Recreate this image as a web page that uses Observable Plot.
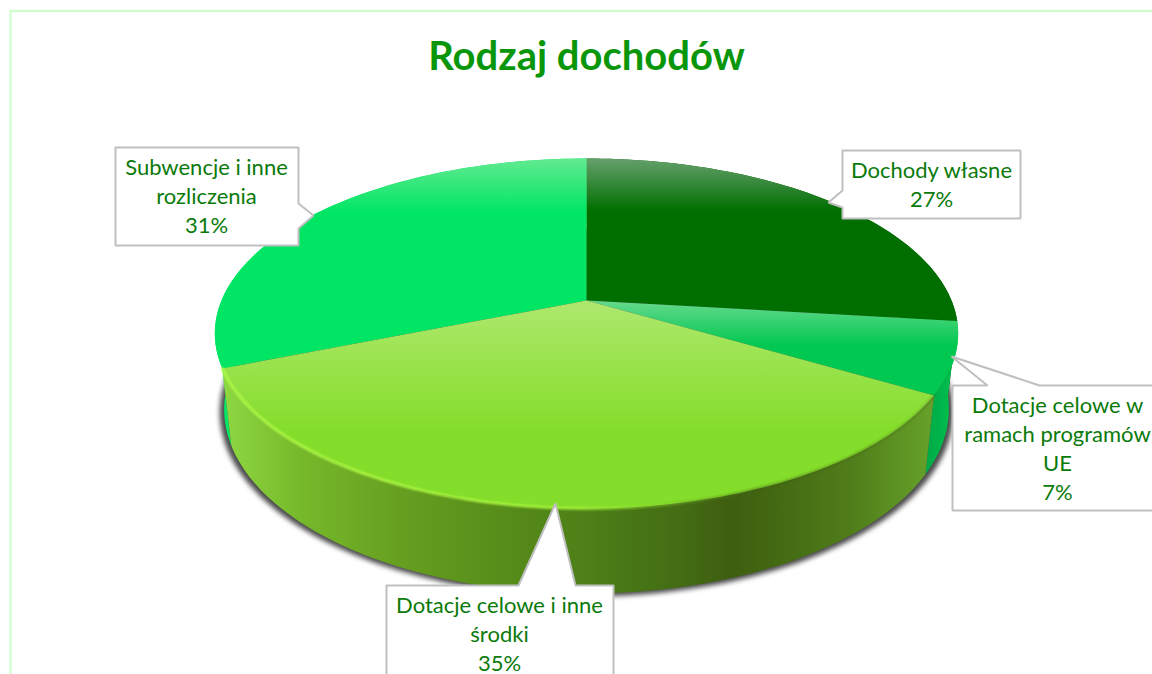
<!DOCTYPE html>
<html>
<head>
<meta charset="utf-8">
<script src="https://cdn.jsdelivr.net/npm/d3@7"></script>
<script src="https://cdn.jsdelivr.net/npm/@observablehq/plot@0.6"></script>
<style>
html,body{margin:0;padding:0;background:#fff;overflow:hidden}
.pie-shadow{filter:blur(2.5px)}
.rim-shade{filter:blur(1px)}
</style>
</head>
<body>
<div id="chart"></div>
<script>
// ---- data ----
const categories = ["Dochody własne", "Dotacje celowe w ramach programów UE", "Dotacje celowe i inne środki", "Subwencje i inne rozliczenia"];
const shares = [26.9, 6.6, 35.4, 31.1];
const chartTitle = "Rodzaj dochodów";
const labelTexts = [
  "Dochody własne\n27%",
  "Dotacje celowe w\nramach programów\nUE\n7%",
  "Dotacje celowe i inne\nśrodki\n35%",
  "Subwencje i inne\nrozliczenia\n31%"
];

// ---- styling and view geometry ----
const W = 1152, H = 674;
const view = {cx: 586, cy: 300, A: 365, B: 168.8, k: 0.1886, wallX: 0.975, wallYa: 58, wallYb: 1.053};
const gradients = [
  ["topDochody", 158, 210, "#65a06d", "#006f00"],
  ["topUE", 300, 345, "#66d98c", "#00c850"],
  ["topSrodki", 300, 430, "#aee86e", "#84dd2a"],
  ["topSubw", 158, 212, "#62ea90", "#00e664"]
];
const wallStops = [[222,"#8fd842"],[300,"#76b92a"],[400,"#669f20"],[500,"#578d1a"],[590,"#4c7f17"],[680,"#436c14"],[730,"#3e5e10"],[780,"#446a13"],[850,"#507d1a"],[933,"#66a22a"]];
const wallFill = ["#006000", "url(#wallUE)", "url(#wallSrodki)", "#05e566"];
const topFill = ["url(#topDochody)", "url(#topUE)", "url(#topSrodki)", "url(#topSubw)"];
const callouts = [
  {box: [842,150,1020,218], ptr: [[842,190],[828,202],[842,207]], side: "left", tx: 931, ty: 171},
  {box: [952,385,1156,510], ptr: [[987,385],[951,356],[1039,385]], side: "top", tx: 1057, ty: 406},
  {box: [386,585,613,690], ptr: [[518,585],[555,503],[575,585]], side: "top", tx: 499, ty: 606},
  {box: [115,147,298,245], ptr: [[298,203],[313,215],[298,228]], side: "right", tx: 206, ty: 168}
];

// ---- helpers: fraction of the turn -> screen position through the view ----
function topAt(frac) {
  const t = frac * 2 * Math.PI, px = Math.sin(t), py = Math.cos(t), w = 1 + view.k * py;
  return [view.cx + view.A * px / w, view.cy - view.B * py / w];
}
function bottomAt(frac) {
  const [x, y] = topAt(frac);
  return [view.cx + view.wallX * (x - view.cx), view.wallYa + view.wallYb * y];
}
function arc(f, f0, f1) {
  const n = Math.max(2, Math.ceil((f1 - f0) * 240));
  return d3.range(n + 1).map(i => f(f0 + (f1 - f0) * i / n));
}

const total = d3.sum(shares);
const ends = Array.from(d3.cumsum(shares), v => v / total);
const slices = shares.map((_, i) => ({i, f0: i ? ends[i - 1] : 0, f1: ends[i]}));
const X = p => p[0], Y = p => p[1];

const defs = () => {
  const d = d3.create("svg:defs");
  for (const [id, y1, y2, c1, c2] of gradients) {
    const g = d.append("linearGradient").attr("id", id).attr("gradientUnits", "userSpaceOnUse")
      .attr("x1", 0).attr("x2", 0).attr("y1", y1).attr("y2", y2);
    g.append("stop").attr("offset", 0).attr("stop-color", c1);
    g.append("stop").attr("offset", 1).attr("stop-color", c2);
  }
  const w = d.append("linearGradient").attr("id", "wallSrodki").attr("gradientUnits", "userSpaceOnUse")
    .attr("x1", 222).attr("x2", 933).attr("y1", 0).attr("y2", 0);
  wallStops.forEach(([x, c]) => w.append("stop").attr("offset", (x - 222) / (933 - 222)).attr("stop-color", c));
  const u = d.append("linearGradient").attr("id", "wallUE").attr("gradientUnits", "userSpaceOnUse")
    .attr("x1", 925).attr("x2", 955).attr("y1", 0).attr("y2", 0);
  u.append("stop").attr("offset", 0).attr("stop-color", "#00a945");
  u.append("stop").attr("offset", 1).attr("stop-color", "#00c24f");
  const h = d.append("linearGradient").attr("id", "rimLight").attr("gradientUnits", "userSpaceOnUse")
    .attr("x1", 222).attr("x2", 933).attr("y1", 0).attr("y2", 0);
  [[0, "#b4ff4a", 1], [0.5, "#a8f53c", 1], [0.6, "#90e030", 0.6], [0.75, "#3d5c0f", 0.5], [1, "#3d5c0f", 0.3]]
    .forEach(([o, c, a]) => h.append("stop").attr("offset", o).attr("stop-color", c).attr("stop-opacity", a));
  return d.node();
};

const shadowPts = arc(bottomAt, 0, 1).map(([x, y]) => [view.cx + 1.012 * (x - view.cx), y + 3]);
const wallOf = s => [...arc(topAt, s.f0, s.f1), ...arc(bottomAt, s.f0, s.f1).reverse()];
const faceOf = s => [[view.cx, view.cy], ...arc(topAt, s.f0, s.f1)];
const boxPath = c => {
  const [x0, y0, x1, y1] = c.box;
  if (c.side === "top") return [[x0, y0], ...c.ptr, [x1, y0], [x1, y1], [x0, y1], [x0, y0]];
  if (c.side === "left") return [[x0, y0], [x1, y0], [x1, y1], [x0, y1], ...c.ptr.slice().reverse(), [x0, y0]];
  return [[x0, y0], [x1, y0], ...c.ptr, [x1, y1], [x0, y1], [x0, y0]];
};

const order = [0, 3, 1, 2]; // back to front
const chart = Plot.plot({
  width: W, height: H, margin: 0,
  x: {domain: [0, W], range: [0, W], axis: null},
  y: {domain: [0, H], range: [0, H], axis: null},
  style: {background: "#fff"},
  marks: [
    defs,
    Plot.line([[1160, 10.5], [10, 10.5], [10, 690]], {x: X, y: Y, stroke: "#ccffcc", strokeWidth: 2}),
    Plot.line(shadowPts, {x: X, y: Y, fill: "#4a4a4a", stroke: "none", className: "pie-shadow"}),
    ...order.map(i => Plot.line(wallOf(slices[i]), {x: X, y: Y, fill: wallFill[i], stroke: "none"})),
    ...order.map(i => Plot.line(faceOf(slices[i]), {x: X, y: Y, fill: topFill[i], stroke: "none"})),
    Plot.line(arc(topAt, slices[2].f0, slices[2].f1), {x: X, y: Y, stroke: "url(#rimLight)", strokeWidth: 2.5, className: "rim-shade"}),
    ...callouts.map(c => Plot.line(boxPath(c), {x: X, y: Y, fill: "#fff", stroke: "#bfbfbf", strokeWidth: 2, strokeLinejoin: "miter"})),
    Plot.text(callouts.map((c, i) => ({...c, label: labelTexts[i]})), {
      x: "tx", y: "ty", text: "label", textAnchor: "middle", lineAnchor: "top", dy: -14,
      fontFamily: "Lato", fontSize: 22, lineHeight: 1.32, fill: "#0a7a0a"
    }),
    Plot.text([chartTitle], {x: () => 586, y: () => 57, text: d => d, fontFamily: "Lato", fontWeight: 700, fontSize: 40, fill: "#0a960a", textAnchor: "middle", lineAnchor: "middle"})
  ]
});
document.getElementById("chart").appendChild(chart);
</script>
</body>
</html>
